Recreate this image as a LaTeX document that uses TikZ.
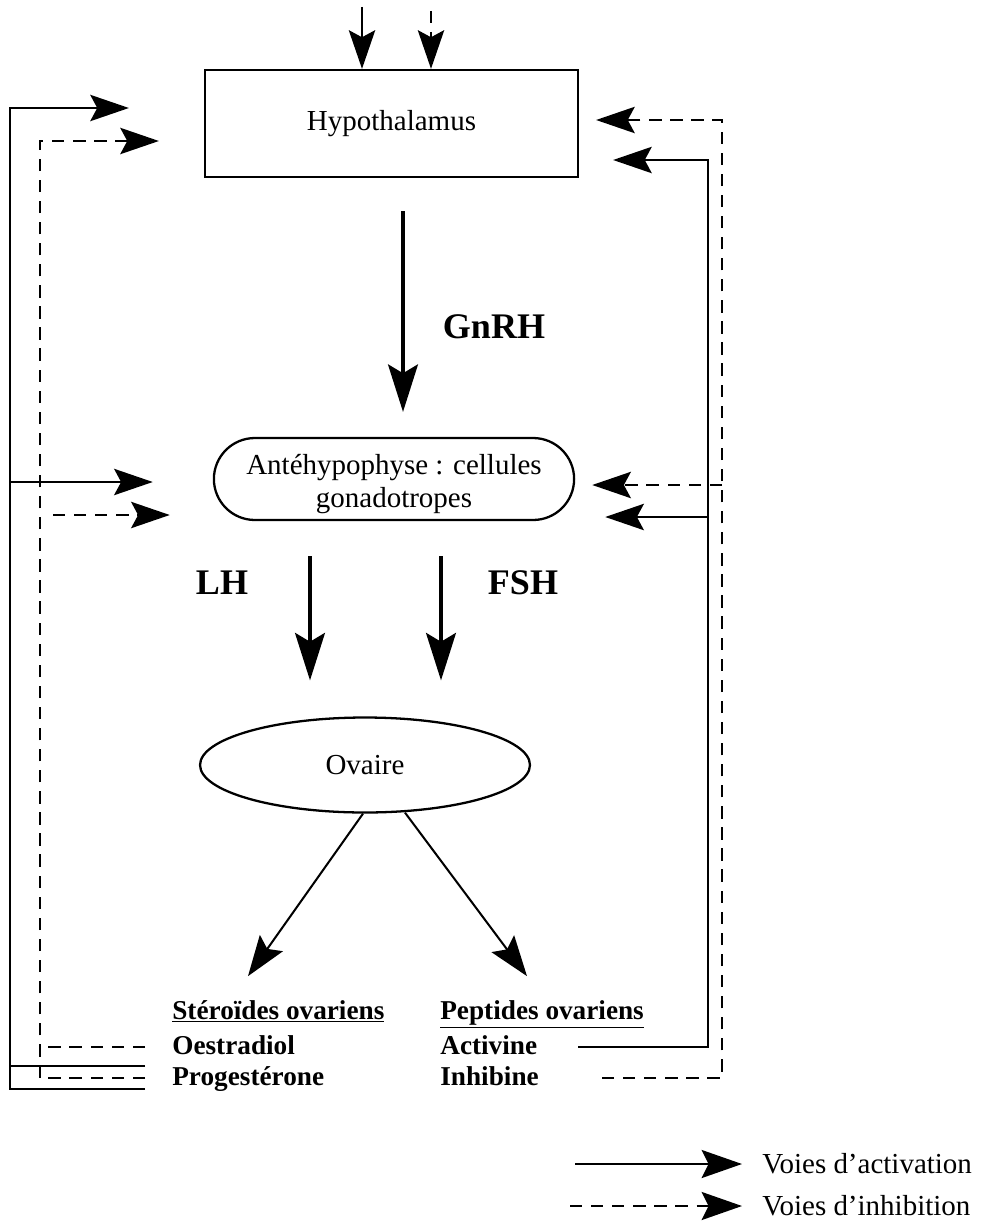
\documentclass[tikz,border=0pt]{standalone}
\usepackage{fontspec}
\setmainfont{Liberation Serif}
\usetikzlibrary{arrows.meta,shapes.misc,shapes.geometric,calc,positioning}

\newcommand\txtsize{\fontsize{16.5}{19.2}\selectfont}

\tikzset{
  fb/.style={line width=1.15pt},
  inh/.style={fb,dash pattern=on 7pt off 5pt},
  tip/.style={-{Stealth[length=22pt,width=15pt,inset=4pt]}},
  tipb/.style={-{Stealth[length=23pt,width=16pt,inset=4pt]}},
  hormone/.style={line width=2pt,-{Stealth[length=27pt,width=17pt,inset=5pt]}},
  organ/.style={draw,line width=1.3pt,font=\txtsize},
  lab/.style={font=\fontsize{15.5}{19}\selectfont\bfseries,inner sep=0pt,anchor=west,text height=11pt,text depth=3pt},
  horm/.style={font=\fontsize{20.5}{24}\selectfont\bfseries},
  leg/.style={font=\txtsize,anchor=west,inner sep=0pt}
}

\begin{document}
\begin{tikzpicture}[x=0.02cm,y=-0.02cm]
\useasboundingbox (0,0) rectangle (987,1224);

\node [organ,minimum width=7.46cm,minimum height=2.14cm] (hypo) at (391.5,123.5) {Hypothalamus};
\node [organ,rounded rectangle,minimum width=7.44cm,minimum height=1.64cm] (ante) at (394,479) {\raisebox{-3pt}[\height][\depth]{\begin{tabular}{@{}c@{}}Antéhypophyse : cellules\\gonadotropes\end{tabular}}};
\node [organ,ellipse,minimum width=6.6cm,minimum height=1.9cm,inner sep=0pt] (ovaire) at (365,765) {Ovaire};

\node [horm] (gnrh) at (494,327) {GnRH};
\node [horm] (lh) at (222,583) {LH};
\node [horm] (fsh) at (523,583) {FSH};

\node [lab] (ster) at (172,1012) {\underline{Stéroïdes ovariens}};
\node [lab] (oest) at (172,1047) {Oestradiol};
\node [lab] (prog) at (172,1078) {Progestérone};
\node [lab] (pept) at (440,1012) {\underline{Peptides ovariens}};
\node [lab] (activ) at (440,1047) {Activine};
\node [lab] (inhib) at (440,1078) {Inhibine};

\node [leg] (lact) at (762,1164) {Voies d’activation};
\node [leg] (linh) at (762,1206) {Voies d’inhibition};

\coordinate (railL) at (10,0);
\coordinate (railLd) at (40,0);
\coordinate (railR) at (708,0);
\coordinate (railRd) at (722,0);

\coordinate (t1) at ($(hypo.west)+(-75,-15.5)$);
\coordinate (t2) at ($(hypo.west)+(-45,17.5)$);
\coordinate (t3) at ($(hypo.east)+(34,36.5)$);
\coordinate (t4) at ($(hypo.east)+(17,-3.5)$);
\coordinate (a1) at ($(ante.west)+(-60,3)$);
\coordinate (a2) at ($(ante.west)+(-43,36)$);
\coordinate (a3) at ($(ante.east)+(30,38)$);
\coordinate (a4) at ($(ante.east)+(17,6)$);

\draw [fb,tip] ($(hypo.north)+(-29.5,-62)$) to ($(hypo.north)+(-29.5,0)$);
\draw [inh,tip] ($(hypo.north)+(39.5,-58)$) to ($(hypo.north)+(39.5,0)$);

\draw [hormone] ($(hypo.south)+(11.5,33)$) to ($(ante.north)+(9,-25)$);
\draw [hormone] ($(ante.south)+(-84,35)$) to ($(ovaire.north)+(-55,-36)$);
\draw [hormone] ($(ante.south)+(47,35)$) to ($(ovaire.north)+(76,-36)$);

\draw [fb,tipb] ($(ovaire.south)+(-2,0)$) to ($(ovaire.south)+(-117,162.5)$);
\draw [fb,tipb] ($(ovaire.south)+(40,-1)$) to ($(ovaire.south)+(162,162.5)$);

\draw [fb,tip] ($(prog.west)+(-27,11)$) -| (railL |- t1) -- (t1);
\draw [fb] ($(oest.west)+(-27,19)$) -- ($(oest.west)+(-162,19)$);
\draw [fb,tip] (railL |- a1) -- (a1);
\draw [inh,tip] ($(prog.west)+(-27,0)$) -| (railLd |- t2) -- (t2);
\draw [inh] ($(oest.west)+(-27,0)$) -- ($(oest.west)+(-132,0)$);
\draw [inh,tip] ($(railLd |- a2)+(13,0)$) -- (a2);

\draw [fb,tip] ($(activ.west)+(138,0)$) -| (railR |- t3) -- (t3);
\draw [fb,tip] (railR |- a3) -- (a3);
\draw [inh,tip] ($(inhib.west)+(162,0)$) -| (railRd |- t4) -- (t4);
\draw [inh,tip] (railRd |- a4) -- (a4);

\draw [fb,tipb] ($(lact.west)+(-187,0)$) to ($(lact.west)+(-20,0)$);
\draw [inh,tipb] ($(linh.west)+(-192,0)$) to ($(linh.west)+(-20,0)$);

\end{tikzpicture}
\end{document}
